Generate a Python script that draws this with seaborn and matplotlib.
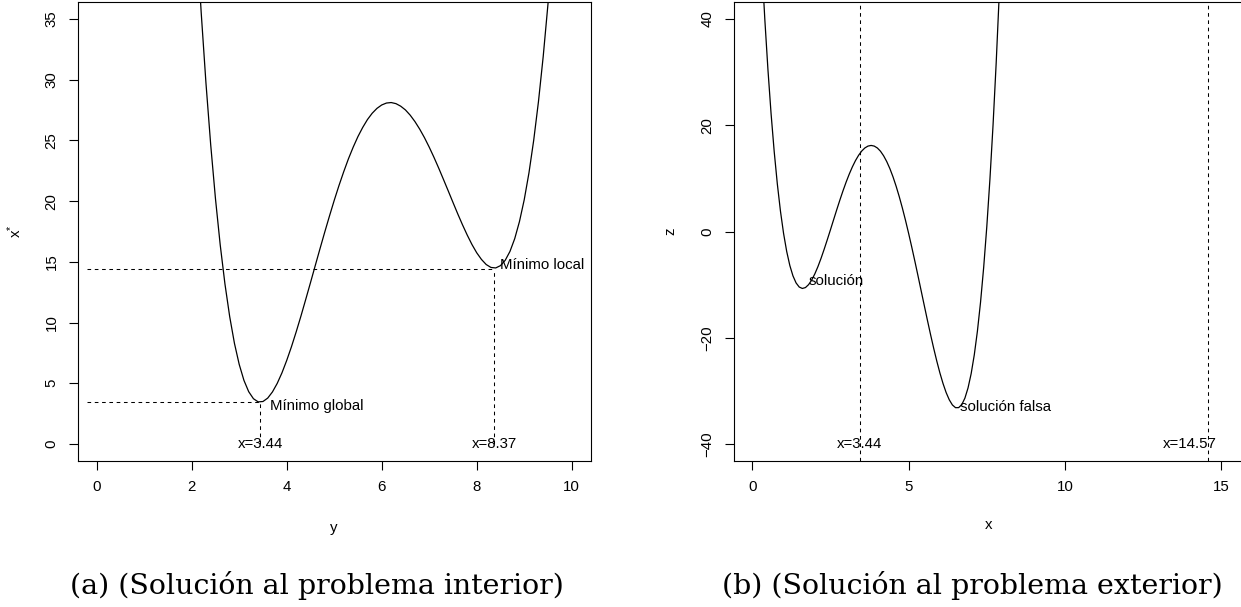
import matplotlib
matplotlib.use("Agg")
import matplotlib.pyplot as plt
import seaborn as sns

# Inner problem: objective as a function of y (sampled every 0.1)
y_vals = [round(2.1 + 0.1 * i, 1) for i in range(76)]
x_star = [42.08, 35.53, 29.74, 24.65, 20.22, 16.41, 13.18, 10.49, 8.29, 6.56, 5.24, 4.31, 3.73,
          3.47, 3.50, 3.78, 4.29, 4.99, 5.86, 6.88, 8.01, 9.24, 10.54, 11.90, 13.28, 14.68, 16.07,
          17.44, 18.77, 20.06, 21.28, 22.42, 23.49, 24.45, 25.32, 26.07, 26.72, 27.24, 27.64, 27.92,
          28.08, 28.12, 28.03, 27.82, 27.51, 27.08, 26.55, 25.93, 25.23, 24.45, 23.61, 22.72, 21.79,
          20.85, 19.90, 18.96, 18.06, 17.21, 16.43, 15.75, 15.20, 14.78, 14.54, 14.50, 14.69, 15.13,
          15.86, 16.91, 18.32, 20.11, 22.33, 25.02, 28.20, 31.92, 36.22, 41.15]
# Inner minima: location and value
min_loc = [3.44, 8.37]
min_val = [3.45, 14.42]
min_names = ["Mínimo global", "Mínimo local"]

# Outer problem: z as a function of x (sampled every 0.1)
x_vals = [round(0.3 + 0.1 * i, 1) for i in range(78)]
z_vals = [50.73, 39.94, 30.46, 22.19, 15.05, 8.96, 3.84, -0.37, -3.76, -6.40, -8.35, -9.68, -10.45,
          -10.72, -10.55, -10.00, -9.13, -7.97, -6.59, -5.02, -3.31, -1.51, 0.34, 2.22, 4.09, 5.91,
          7.65, 9.29, 10.80, 12.16, 13.35, 14.35, 15.15, 15.73, 16.08, 16.20, 16.08, 15.72, 15.11,
          14.25, 13.16, 11.84, 10.29, 8.52, 6.56, 4.41, 2.10, -0.36, -2.94, -5.61, -8.35, -11.14,
          -13.92, -16.68, -19.37, -21.95, -24.38, -26.62, -28.61, -30.32, -31.68, -32.65, -33.16,
          -33.15, -32.58, -31.36, -29.44, -26.75, -23.21, -18.75, -13.30, -6.77, 0.90, 9.82, 20.05,
          31.70, 44.84, 59.58]
outer_marks = [3.44, 14.57]
outer_label_x = [3.44, 14.0]

sns.set_theme(style="white")
plt.rcParams['font.family'] = ['Liberation Sans', 'DejaVu Sans']
plt.rcParams['mathtext.fontset'] = 'custom'
plt.rcParams['mathtext.rm'] = 'Liberation Sans'
plt.rcParams['mathtext.it'] = 'Liberation Sans'
for key in ('text.color', 'axes.labelcolor', 'xtick.color', 'ytick.color'):
    plt.rcParams[key] = 'black'

FS = 10.8
DASH = (0, (3.5, 3.5))
LW_D = 0.75

fig = plt.figure(figsize=(12.41, 6.07), dpi=100)
ax1 = fig.add_axes([0.0626, 0.2405, 0.4134, 0.7562])
ax2 = fig.add_axes([0.5911, 0.2405, 0.4182, 0.7562])

sns.lineplot(x=y_vals, y=x_star, ax=ax1, color='black', lw=0.9, estimator=None, sort=False)
sns.lineplot(x=x_vals, y=z_vals, ax=ax2, color='black', lw=0.9, estimator=None, sort=False)

for ax in (ax1, ax2):
    for sp in ax.spines.values():
        sp.set_color('black')
        sp.set_linewidth(0.8)
    ax.tick_params(direction='out', length=6.7, width=0.8, color='black',
                   labelsize=FS, pad=7, left=True, bottom=True)

ax1.set_xlim(-0.4, 10.4)
ax1.set_ylim(-1.4, 36.4)
ax2.set_xlim(-0.6, 16.0)
ax2.set_ylim(-43.2, 43.2)
ax1.set_xticks(range(0, 11, 2))
ax1.set_yticks(range(0, 36, 5))
ax2.set_xticks([0, 5, 10, 15])
ax2.set_yticks([-40, -20, 0, 20, 40])
ax2.set_yticklabels(['\u221240', '\u221220', '0', '20', '40'])
for ax in (ax1, ax2):
    plt.setp(ax.get_yticklabels(), rotation=90, va='center')

# Left panel: minima with guide lines and labels
for mx, mv, name, dy in zip(min_loc, min_val, min_names, [-0.33, 0.35]):
    ax1.plot([-0.2, mx], [mv, mv], color='black', lw=LW_D, linestyle=DASH)
    ax1.plot([mx, mx], [0, mv], color='black', lw=LW_D, linestyle=DASH)
    ax1.text(mx + 0.2 if dy < 0 else mx + 0.11, mv + dy, name, fontsize=FS,
             ha='left', va='center')
    ax1.text(mx, 0, f"x={mx:.2f}", fontsize=FS, ha='center', va='center')

# Right panel: vertical guide lines and labels
for mx, lx in zip(outer_marks, outer_label_x):
    ax2.axvline(mx, color='black', lw=LW_D, linestyle=DASH)
    ax2.text(lx, -40, f"x={mx:.2f}", fontsize=FS, ha='center', va='center')
ax2.text(1.80, -9.4, "solución", fontsize=FS, ha='left', va='center')
ax2.text(6.63, -33.0, "solución falsa", fontsize=FS, ha='left', va='center')

ax1.set_xlabel("y", fontsize=FS)
ax1.set_ylabel(r"$\mathregular{x^{*}}$", fontsize=FS)
ax2.set_xlabel("x", fontsize=FS)
ax2.set_ylabel("z", fontsize=FS)
for ax in (ax1, ax2):
    ax.xaxis.label.set_va('center')
    ax.yaxis.label.set_va('center')
ax1.xaxis.set_label_coords(0.5, -0.145)
ax2.xaxis.set_label_coords(0.492, -0.14)
ax1.yaxis.set_label_coords(-0.122, 0.5)
ax2.yaxis.set_label_coords(-0.1227, 0.5)

fig.text(317 / 1241, 1 - 585 / 607, "(a) (Solución al problema interior)",
         family='DejaVu Serif', fontsize=20.5, ha='center', va='center')
fig.text(972 / 1241, 1 - 585 / 607, "(b) (Solución al problema exterior)",
         family='DejaVu Serif', fontsize=20.5, ha='center', va='center')

fig.savefig("out.png", dpi=100)
